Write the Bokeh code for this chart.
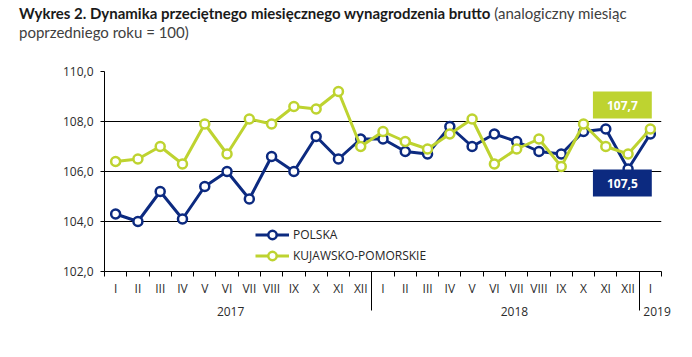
from bokeh.plotting import figure
from bokeh.models import (FixedTicker, LinearAxis, Range1d, Label, Legend,
                          LegendItem, Grid, Div)
from bokeh.layouts import column
from bokeh.embed import file_html
from bokeh.resources import INLINE

# ---- data ----
month_names = ["I", "II", "III", "IV", "V", "VI", "VII", "VIII", "IX", "X", "XI", "XII"]
months = month_names + month_names + ["I"]
years = ["2017", "2018", "2019"]
year_lengths = [12, 12, 1]
polska = [104.3, 104.0, 105.2, 104.1, 105.4, 106.0, 104.9, 106.6, 106.0, 107.4, 106.5, 107.3,
          107.3, 106.8, 106.7, 107.8, 107.0, 107.5, 107.2, 106.8, 106.7, 107.6, 107.7, 106.1,
          107.5]
kujawsko = [106.4, 106.5, 107.0, 106.3, 107.9, 106.7, 108.1, 107.9, 108.6, 108.5, 109.2, 107.0,
            107.6, 107.2, 106.9, 107.5, 108.1, 106.3, 106.9, 107.3, 106.2, 107.9, 107.0, 106.7,
            107.7]
y_ticks = [102, 104, 106, 108, 110]
y_tick_labels = ["102,0", "104,0", "106,0", "108,0", "110,0"]
title_bold = "Wykres 2. Dynamika przeciętnego miesięcznego wynagrodzenia brutto"
title_rest_1 = "(analogiczny miesiąc"
title_rest_2 = "poprzedniego roku = 100)"

NAVY = "#0c2a80"
GREEN = "#bed330"
TXT = "#2b2b2b"
FONT = "Open Sans"

n = len(months)
x = list(range(n))
boundaries = [i - 0.5 for i in range(n + 1)]
year_seps = []
acc = 0
for L in year_lengths[:-1]:
    acc += L
    year_seps.append(acc - 0.5)
# year label positions (as placed in the reference)
year_pos_shift = [-0.34, 0.4, 0.3]
year_pos = []
acc = 0
for L, s in zip(year_lengths, year_pos_shift):
    year_pos.append(round(acc + (L - 1) / 2 + s, 2))
    acc += L

TITLE_H = 40

p = figure(frame_width=557, frame_height=200,
           x_range=Range1d(-0.5, n - 0.5), y_range=Range1d(102, 110),
           output_backend="svg", toolbar_location=None,
           min_border_left=104, min_border_right=23, min_border_top=71 - TITLE_H,
           min_border_bottom=70,
           x_axis_type=None, y_axis_type=None)
p.outline_line_color = None
p.background_fill_color = "white"
p.border_fill_color = "white"

# y axis
yaxis = LinearAxis(ticker=FixedTicker(ticks=y_ticks, minor_ticks=[]),
                   major_label_overrides={t: l for t, l in zip(y_ticks, y_tick_labels)},
                   axis_line_color="black", axis_line_width=1,
                   major_tick_line_color="black", major_tick_out=4, major_tick_in=0,
                   minor_tick_line_color=None,
                   major_label_standoff=7,
                   major_label_text_font=FONT, major_label_text_font_size="12px",
                   major_label_text_color=TXT)
p.add_layout(yaxis, "left")
p.add_layout(Grid(dimension=1, ticker=FixedTicker(ticks=y_ticks, minor_ticks=[]),
                  grid_line_color="black", grid_line_width=1))

# x axis: month labels, short ticks at month boundaries
xaxis = LinearAxis(ticker=FixedTicker(ticks=x, minor_ticks=boundaries),
                   major_label_overrides={i: m for i, m in enumerate(months)},
                   axis_line_color="black", axis_line_width=1,
                   major_tick_line_color=None, major_tick_out=0, major_tick_in=0,
                   minor_tick_line_color="black", minor_tick_out=5, minor_tick_in=0,
                   major_label_standoff=3,
                   major_label_text_font=FONT, major_label_text_font_size="12px",
                   major_label_text_color=TXT)
p.add_layout(xaxis, "below")

# x axis: year labels, long separators between years
xaxis2 = LinearAxis(ticker=FixedTicker(ticks=year_pos, minor_ticks=year_seps),
                    major_label_overrides={v: yname for v, yname in zip(year_pos, years)},
                    axis_line_color=None,
                    major_tick_line_color=None, major_tick_out=0, major_tick_in=0,
                    minor_tick_line_color="black", minor_tick_in=24, minor_tick_out=11,
                    major_label_standoff=-4,
                    major_label_text_font=FONT, major_label_text_font_size="12px",
                    major_label_text_color=TXT)
p.add_layout(xaxis2, "below")

# series
l1 = p.line(x, polska, line_color=NAVY, line_width=3)
s1 = p.scatter(x, polska, size=9, fill_color="white", line_color=NAVY, line_width=2.5)
l2 = p.line(x, kujawsko, line_color=GREEN, line_width=3)
s2 = p.scatter(x, kujawsko, size=9, fill_color="white", line_color=GREEN, line_width=2.5)

legend = Legend(items=[LegendItem(label="POLSKA", renderers=[l1, s1]),
                       LegendItem(label="KUJAWSKO-POMORSKIE", renderers=[l2, s2])],
                location=(151, 5), glyph_width=34, glyph_height=21, label_height=21,
                label_standoff=4, spacing=0, padding=0, margin=0,
                border_line_color=None, background_fill_alpha=0,
                label_text_font=FONT, label_text_font_size="12px",
                label_text_color="#262626")
p.add_layout(legend)

# end-value labels
p.add_layout(Label(x=x[-1], y=kujawsko[-1], x_offset=-28, y_offset=24,
                   text=f"{kujawsko[-1]:.1f}".replace(".", ","),
                   text_align="center", text_baseline="middle",
                   text_font=FONT, text_font_style="bold", text_font_size="12px",
                   text_color="white", background_fill_color=GREEN,
                   padding=dict(left=14, right=14, top=9, bottom=9)))
p.add_layout(Label(x=x[-1], y=polska[-1], x_offset=-28, y_offset=-49,
                   text=f"{polska[-1]:.1f}".replace(".", ","),
                   text_align="center", text_baseline="middle",
                   text_font=FONT, text_font_style="bold", text_font_size="12px",
                   text_color="white", background_fill_color=NAVY,
                   padding=dict(left=14, right=14, top=9, bottom=9)))

# title (mixed bold / regular)
title = Div(
    text=('<div style="font-family:Lato;font-size:15px;line-height:19px;color:#404040;'
          'white-space:nowrap;padding:4px 0 0 19px;margin:0;">'
          f'<span style="font-weight:bold;color:#1a1a1a;">{title_bold}</span> '
          f'{title_rest_1}<br>{title_rest_2}</div>'),
    width=684, height=TITLE_H, margin=0)

layout = column(title, p, spacing=0)
open("out.html", "w").write(file_html(layout, INLINE))
